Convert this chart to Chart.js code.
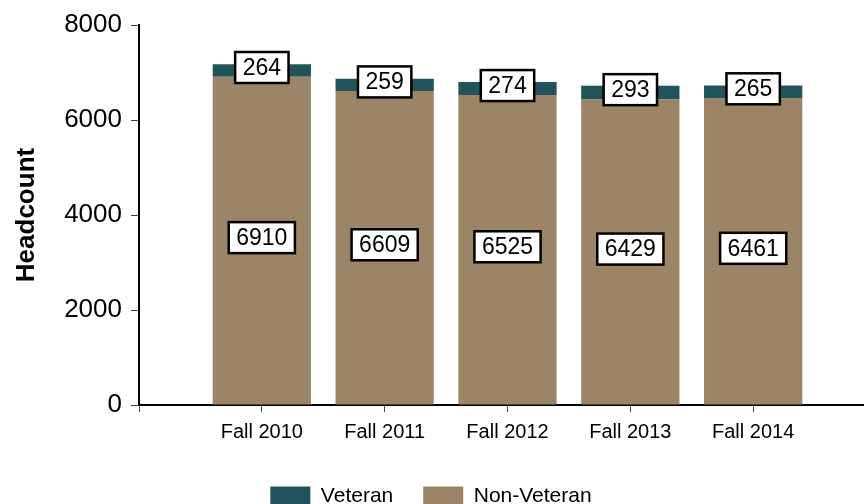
<!DOCTYPE html>
<html>
<head>
<meta charset="utf-8">
<script src="https://cdn.jsdelivr.net/npm/chart.js@4"></script>
<style>
  html, body { margin: 0; padding: 0; background: #fff; overflow: hidden; }
  #wrap { width: 884px; height: 517px; }
</style>
</head>
<body>
<div id="wrap"><canvas id="chart" width="884" height="517"></canvas></div>
<script>
// Data
const terms = ["Fall 2010", "Fall 2011", "Fall 2012", "Fall 2013", "Fall 2014"];
const veteran = [264, 259, 274, 293, 265];
const nonVeteran = [6910, 6609, 6525, 6429, 6461];
const yTicks = [0, 2000, 4000, 6000, 8000];

// blank slot on each side so the axis runs past the bars
const labels = [""].concat(terms, [""]);
const pad = (arr) => [null].concat(arr, [null]);

const FONT = "'Liberation Sans', Arial, sans-serif";

// white boxed value labels in the middle of each segment
const boxLabels = {
  id: "boxLabels",
  afterDatasetsDraw(chart) {
    const ctx = chart.ctx;
    ctx.save();
    ctx.font = "23px " + FONT;
    ctx.textAlign = "center";
    ctx.textBaseline = "middle";
    chart.data.datasets.forEach((ds, i) => {
      const meta = chart.getDatasetMeta(i);
      meta.data.forEach((bar, j) => {
        const v = ds.data[j];
        if (v == null) return;
        const txt = String(v);
        const w = ctx.measureText(txt).width + 15;
        const h = 31;
        const cx = bar.x;
        const cy = (bar.y + bar.base) / 2 - 3;
        ctx.fillStyle = "#fff";
        ctx.fillRect(cx - w / 2, cy - h / 2, w, h);
        ctx.lineWidth = 2.5;
        ctx.strokeStyle = "#000";
        ctx.strokeRect(cx - w / 2, cy - h / 2, w, h);
        ctx.fillStyle = "#000";
        ctx.fillText(txt, cx, cy + 1);
      });
    });
    ctx.restore();
  }
};

// nudge the legend a little left, like the original
const legendShift = {
  id: "legendShift",
  afterLayout(chart) {
    chart.legend.left -= 11;
    chart.legend.right -= 11;
  }
};

new Chart(document.getElementById("chart").getContext("2d"), {
  type: "bar",
  data: {
    labels: labels,
    datasets: [
      {
        label: "Non-Veteran",
        data: pad(nonVeteran),
        backgroundColor: "#9B8566",
        barPercentage: 0.8,
        categoryPercentage: 1.0
      },
      {
        label: "Veteran",
        data: pad(veteran),
        backgroundColor: "#20535B",
        barPercentage: 0.8,
        categoryPercentage: 1.0
      }
    ]
  },
  options: {
    responsive: false,
    animation: false,
    layout: { padding: { top: 25, left: 0, right: 0, bottom: 0 } },
    plugins: {
      legend: {
        position: "bottom",
        reverse: true,
        labels: {
          boxWidth: 40,
          boxHeight: 20,
          padding: 30,
          color: "#000",
          font: { family: FONT, size: 21 }
        }
      },
      tooltip: { enabled: false }
    },
    scales: {
      x: {
        stacked: true,
        offset: false,
        grid: { offset: false, drawOnChartArea: false, drawTicks: true, tickLength: 7, color: "#444" },
        border: { display: true, color: "#000", width: 2 },
        ticks: {
          color: "#000",
          padding: 8,
          maxRotation: 0,
          autoSkip: false,
          font: { family: FONT, size: 20 }
        },
        afterFit(scale) { scale.height = 51; }
      },
      y: {
        stacked: true,
        min: 0,
        max: 8000,
        afterBuildTicks(scale) { scale.ticks = yTicks.map(v => ({ value: v })); },
        grid: { drawOnChartArea: false, drawTicks: true, tickLength: 8, color: "#444" },
        border: { display: true, color: "#000", width: 2 },
        ticks: {
          color: "#000",
          padding: 9,
          font: { family: FONT, size: 26 },
          callback: (v) => String(v)
        },
        title: {
          display: true,
          text: "Headcount",
          color: "#000",
          padding: { top: 11, bottom: 0 },
          font: { family: FONT, size: 26, weight: "bold" }
        },
        afterFit(scale) { scale.width = 139; }
      }
    }
  },
  plugins: [boxLabels, legendShift]
});
</script>
</body>
</html>
